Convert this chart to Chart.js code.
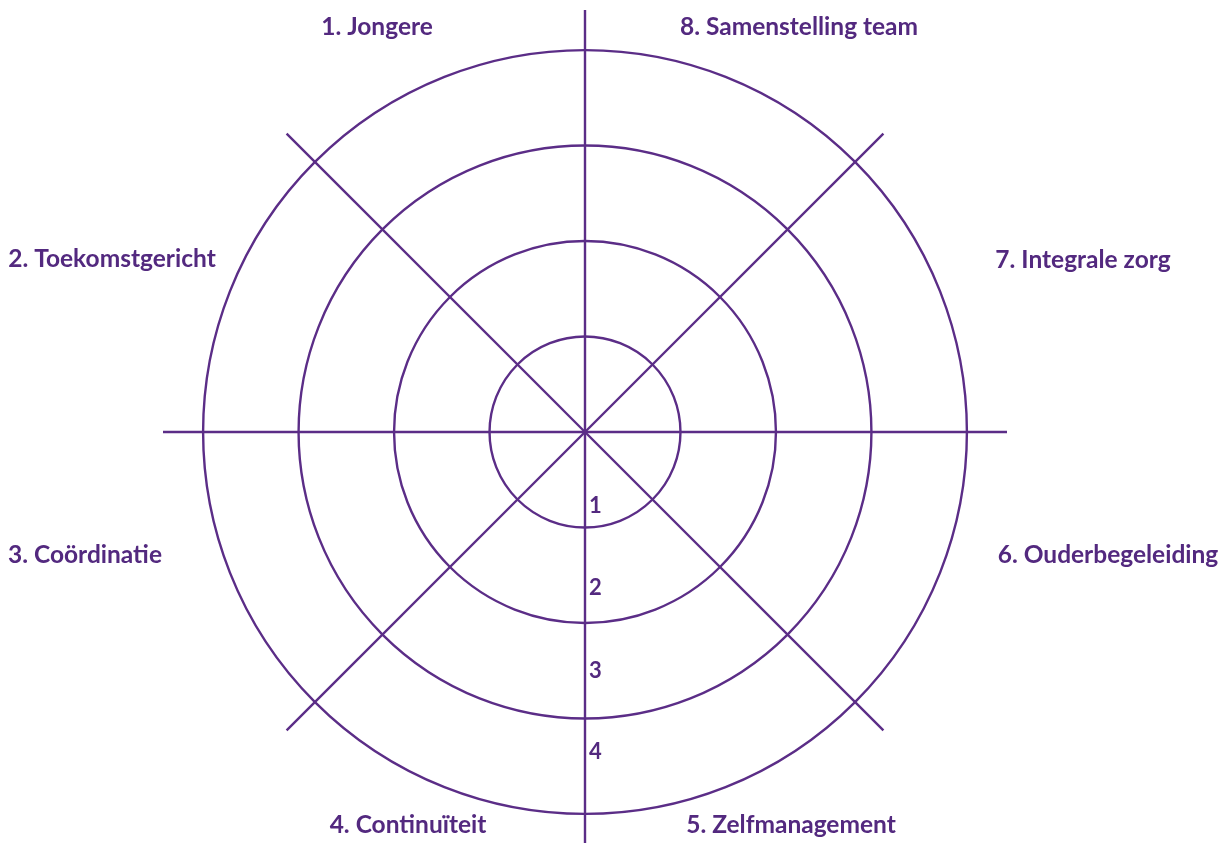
<!DOCTYPE html>
<html>
<head>
<meta charset="utf-8">
<script src="https://cdn.jsdelivr.net/npm/chart.js@4.4.1/dist/chart.umd.min.js"></script>
<style>
  html, body { margin: 0; padding: 0; background: #ffffff; }
  #wrap { width: 1221px; height: 843px; position: relative; }
</style>
</head>
<body>
<div id="wrap"><canvas id="c" width="1221" height="843"></canvas></div>
<script>
// ---- data ----
const CATEGORIES = [
  "8. Samenstelling team",
  "7. Integrale zorg",
  "6. Ouderbegeleiding",
  "5. Zelfmanagement",
  "4. Continuïteit",
  "3. Coördinatie",
  "2. Toekomstgericht",
  "1. Jongere"
];
const RING_VALUES = [1, 2, 3, 4];
const TICK_LABELS = ["1", "2", "3", "4"];
const SCALE_MIN = 0;
const SCALE_MAX = 4.42;   // spokes run a little past the outer ring

// ---- layout / style (kept apart from the data) ----
const LINE_COLOR = "#5b2d87";
const TEXT_COLOR = "#53297f";
const CENTER = { x: 585, y: 432 };
const RADIUS = 422;
// baseline offsets of the sector labels, relative to the scale centre
const LABEL_OFFSETS = [
  { dx: 214, dy: -397 },
  { dx: 498, dy: -164 },
  { dx: 523, dy: 131 },
  { dx: 206, dy: 401 },
  { dx: -177, dy: 401 },
  { dx: -500, dy: 131 },
  { dx: -473, dy: -165 },
  { dx: -208, dy: -397 }
];
// where the ring numbers sit along the lower spoke (in scale units)
const TICK_LABEL_POS = [0.85, 1.71, 2.58, 3.43];

const sectorLabels = {
  id: "sectorLabels",
  afterDraw(chart) {
    const s = chart.scales.r;
    const ctx = chart.ctx;
    ctx.save();
    ctx.fillStyle = TEXT_COLOR;
    ctx.textBaseline = "alphabetic";
    ctx.textAlign = "center";
    ctx.font = "bold 24.5px Lato";
    chart.data.labels.forEach((lab, i) => {
      const o = LABEL_OFFSETS[i];
      ctx.fillText(lab, s.xCenter + o.dx, s.yCenter + o.dy);
    });
    ctx.textAlign = "left";
    ctx.font = "bold 22px Lato";
    TICK_LABELS.forEach((t, i) => {
      const d = s.getDistanceFromCenterForValue(TICK_LABEL_POS[i]);
      ctx.fillText(t, s.xCenter + 4, s.yCenter + d);
    });
    ctx.restore();
  }
};

new Chart(document.getElementById("c"), {
  type: "radar",
  data: {
    labels: CATEGORIES,
    datasets: []
  },
  options: {
    responsive: false,
    animation: false,
    events: [],
    plugins: { legend: { display: false }, tooltip: { enabled: false } },
    scales: {
      r: {
        min: SCALE_MIN,
        max: SCALE_MAX,
        ticks: { display: false, stepSize: 1 },
        pointLabels: { display: false },
        grid: {
          circular: true,
          lineWidth: 2.4,
          color: (c) => (c.tick && RING_VALUES.includes(c.tick.value)) ? LINE_COLOR : "rgba(0,0,0,0)"
        },
        angleLines: { display: true, color: LINE_COLOR, lineWidth: 2.4 },
        afterFit(scale) {
          scale.xCenter = CENTER.x;
          scale.yCenter = CENTER.y;
          scale.drawingArea = RADIUS;
        }
      }
    }
  },
  plugins: [sectorLabels]
});
</script>
</body>
</html>
